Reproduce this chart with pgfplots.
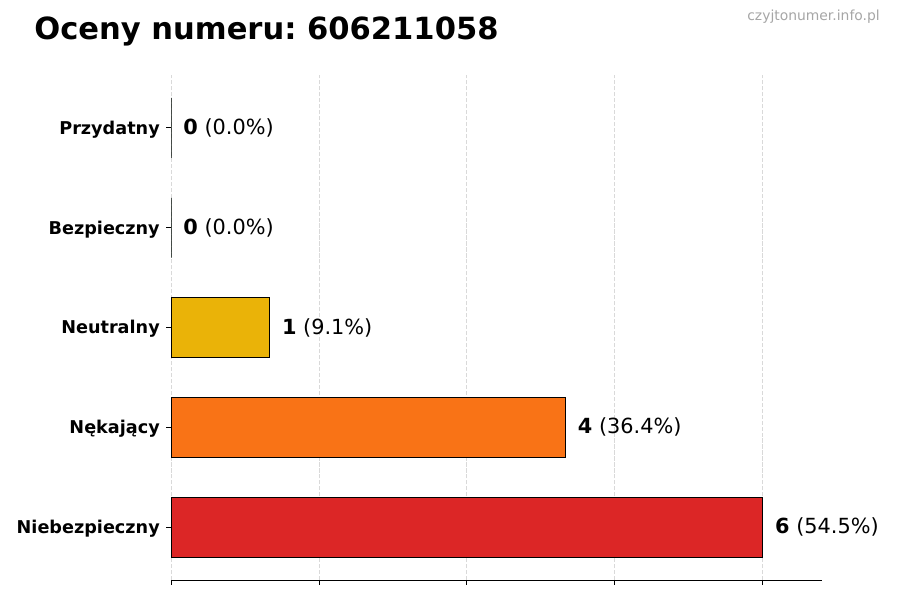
\documentclass[border=0pt]{standalone}
\usepackage{pgfplots}
\pgfplotsset{compat=1.18}
\usepackage{fontspec}
\setmainfont{DejaVu Sans}
\frenchspacing

\definecolor{cRed}{HTML}{DC2626}
\definecolor{cOrange}{HTML}{F97316}
\definecolor{cYellow}{HTML}{EAB308}
\definecolor{cGreen}{HTML}{22C55E}
\definecolor{cTeal}{HTML}{16A34A}
\definecolor{gridgray}{HTML}{D9D9D9}

\begin{document}
\begin{tikzpicture}
  \path[use as bounding box] (0,0) rectangle (648pt,432pt);

  \begin{axis}[
      at={(123.12pt,14.4pt)}, anchor=south west,
      scale only axis,
      width=468.7pt, height=363.6pt,
      xbar, bar width=0.6, bar shift=0pt,
      xmin=0, xmax=6.6,
      ymin=-0.53, ymax=4.53,
      xtick={0,1.5,3,4.5,6}, xticklabels={},
      ytick={0,1,2,3,4},
      yticklabels={Niebezpieczny,Nękający,Neutralny,Bezpieczny,Przydatny},
      yticklabel style={font=\bfseries\fontsize{12.7}{15}\selectfont, inner sep=0pt, yshift=-1.2pt},
      yticklabel shift=4.4pt,
      axis x line*=bottom, axis y line*=left,
      axis line style={-},
      y axis line style={draw=none},
      tick align=outside,
      major tick length=3.5pt,
      tick style={black, line width=0.6pt},
      xmajorgrids,
      grid style={gridgray, dash pattern=on 3pt off 1.3pt, line width=0.6pt},
      point meta=explicit symbolic,
      nodes near coords,
      every node near coord/.append style={font=\fontsize{15}{18}\selectfont,
        anchor=west, inner sep=0pt, xshift=8.6pt, text=black},
    ]
    \addplot[fill=cRed, draw=black, line width=0.7pt]
      coordinates {(6,0) [\textbf{6} (54.5\%)]};
    \addplot[fill=cOrange, draw=black, line width=0.7pt]
      coordinates {(4,1) [\textbf{4} (36.4\%)]};
    \addplot[fill=cYellow, draw=black, line width=0.7pt]
      coordinates {(1,2) [\textbf{1} (9.1\%)]};
    \addplot[fill=cGreen, draw=black, line width=0.7pt]
      coordinates {(0,3) [\textbf{0} (0.0\%)]};
    \addplot[fill=cTeal, draw=black, line width=0.7pt]
      coordinates {(0,4) [\textbf{0} (0.0\%)]};
  \end{axis}

  \node[anchor=base west, inner sep=0pt, font=\bfseries\fontsize{22}{26}\selectfont]
    at (24.5pt,403.2pt) {Oceny numeru: 606211058};
  \node[anchor=base east, inner sep=0pt, text=black!35, font=\fontsize{10}{12}\selectfont]
    at (633.6pt,416.9pt) {czyjtonumer.info.pl};
\end{tikzpicture}
\end{document}
